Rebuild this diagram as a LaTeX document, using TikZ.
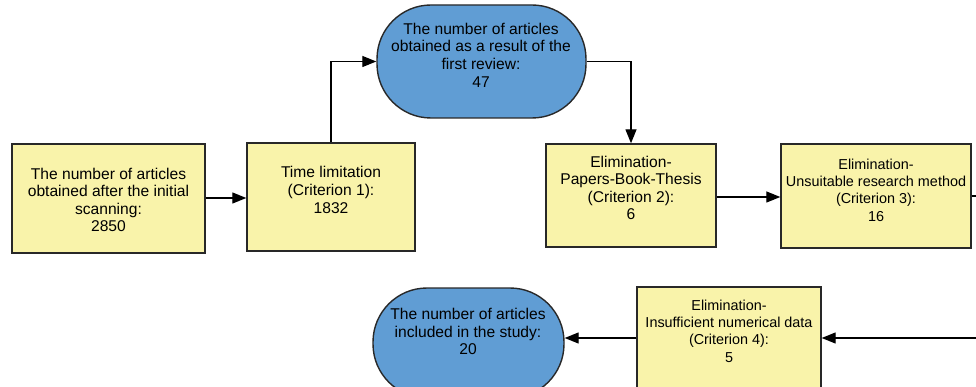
\documentclass[tikz,border=0pt]{standalone}
\usepackage{fontspec}
\setmainfont{Liberation Sans}
\usetikzlibrary{arrows.meta}
\definecolor{boxyellow}{RGB}{249,243,170}
\definecolor{ovalblue}{RGB}{96,157,212}
\definecolor{edgegray}{RGB}{40,40,40}
\tikzset{
  ybox/.style={draw=edgegray, line width=1.4pt, fill=boxyellow, rectangle, inner sep=0pt},
  oval/.style={draw=edgegray, line width=1.4pt, fill=ovalblue, rectangle, rounded corners=54pt, inner sep=0pt},
  txt/.style={align=center, inner sep=0pt, font=\fontsize{15.6}{17.6}\selectfont},
  smalltxt/.style={txt, font=\fontsize{14.4}{17.3}\selectfont},
  conn/.style={draw=black, line width=1.3pt},
  arr/.style={conn, -{Triangle[length=14pt,width=11pt]}}
}
\begin{document}
\begin{tikzpicture}[x=1pt,y=-1pt]
\useasboundingbox (0,0) rectangle (976,387);
\clip (0,0) rectangle (976,387);
\fill[white] (0,0) rectangle (976,387);
% shapes
\node[ybox, minimum width=193pt, minimum height=109pt] (a) at (108.5,198.5) {};
\node[ybox, minimum width=168pt, minimum height=108pt] (b) at (331,197) {};
\node[oval, minimum width=209pt, minimum height=113pt] (s1) at (481.5,61.5) {};
\node[ybox, minimum width=170pt, minimum height=103pt] (c) at (631,195.5) {};
\node[ybox, minimum width=190pt, minimum height=104pt] (d) at (876,196) {};
\node[ybox, minimum width=184pt, minimum height=110pt] (e) at (729,342) {};
\node[oval, minimum width=191pt, minimum height=110pt] (s2) at (468.5,343) {};
% texts
\node[txt] (ta) at (108.5,200) {The number of articles\\obtained after the initial\\scanning:\\2850};
\node[txt] (tb) at (331,190) {Time limitation\\(Criterion 1):\\1832};
\node[txt] (ts1) at (481,55) {The number of articles\\obtained as a result of the\\first review:\\47};
\node[txt] (tc) at (631,188) {Elimination-\\Papers-Book-Thesis\\(Criterion 2):\\6};
\node[smalltxt] (td) at (876,190) {Elimination-\\Unsuitable research method\\(Criterion 3):\\16};
\node[smalltxt] (te) at (729,331) {Elimination-\\Insufficient numerical data\\(Criterion 4):\\5};
\node[txt] (ts2) at (468,331.5) {The number of articles\\included in the study:\\20};
% free ends
\coordinate (outD) at (976,196);
\coordinate (inE) at (976,338);
% connectors
\draw[arr] (a.east |- 0,198) -- (b.west |- 0,198);
\draw[arr] (b.north) |- (s1.west);
\draw[arr] (s1.east) -| (c.north);
\draw[arr] (c.east |- 0,197) -- (d.west |- 0,197);
\draw[conn] (d.east |- outD) -- (outD);
\draw[arr] (inE) -- (e.east |- inE);
\draw[arr] (e.west |- inE) -- (s2.east |- inE);
\end{tikzpicture}
\end{document}
